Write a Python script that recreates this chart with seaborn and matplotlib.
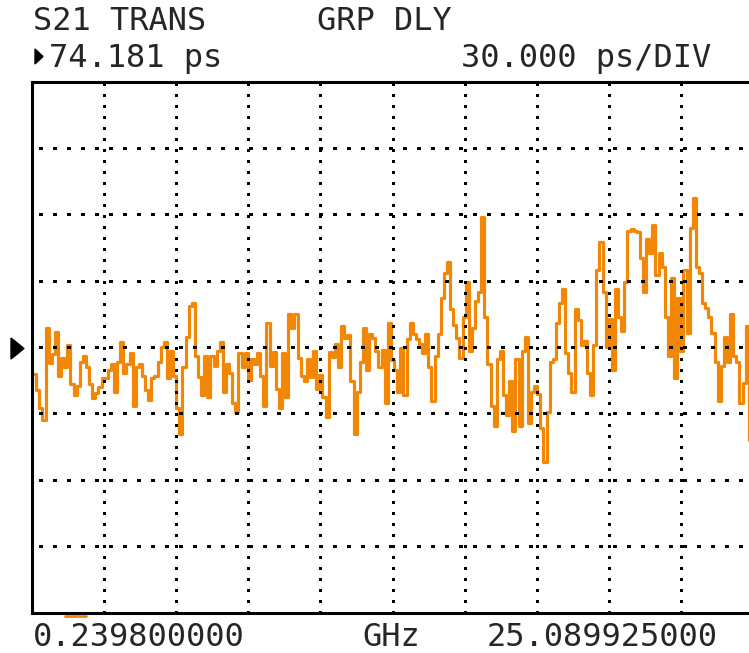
import numpy as np
import pandas as pd
import matplotlib
matplotlib.use("Agg")
import matplotlib.pyplot as plt
import seaborn as sns
from matplotlib.lines import Line2D
from matplotlib.patches import Polygon

# sweep and scale settings (from the screen annotations)
freq_start_ghz = 0.2398
freq_stop_ghz = 25.089925
ref_value_ps = 74.181
scale_ps_per_div = 30.0
n_xdiv = 10
n_ydiv = 8

# group delay trace, ps
delay_ps = [
    62.0, 62.0, 54.8, 46.6, 41.2, 82.8, 67.0, 71.0, 81.0, 61.1,
    69.2, 65.2, 75.1, 57.5, 52.5, 56.6, 67.4, 70.1, 65.2, 57.5,
    51.1, 53.4, 56.1, 60.2, 60.2, 63.8, 66.5, 53.9, 67.4, 76.5,
    62.4, 66.5, 71.5, 47.5, 65.2, 66.5, 61.1, 54.8, 50.2, 60.2,
    61.1, 67.4, 74.2, 76.5, 60.2, 72.4, 61.1, 46.6, 34.9, 65.2,
    78.7, 92.7, 94.1, 70.1, 60.6, 52.5, 70.1, 51.6, 70.1, 65.6,
    72.4, 76.5, 53.9, 66.5, 62.4, 48.9, 44.8, 71.5, 65.2, 71.5,
    59.3, 68.8, 66.5, 71.5, 61.1, 47.5, 85.0, 65.6, 71.9, 55.2,
    46.6, 71.5, 51.6, 89.1, 82.8, 89.1, 69.2, 61.1, 58.8, 68.8,
    60.6, 72.4, 55.2, 61.5, 51.6, 42.6, 71.9, 69.7, 75.6, 65.2,
    83.7, 78.3, 79.6, 58.8, 34.9, 53.9, 67.4, 82.8, 63.8, 80.1,
    78.3, 72.4, 65.2, 72.8, 48.9, 85.0, 68.3, 63.8, 53.9, 73.7,
    52.5, 77.8, 85.0, 80.1, 77.8, 75.6, 71.5, 80.1, 65.2, 49.8,
    70.1, 80.1, 96.3, 107.6, 112.6, 91.4, 84.1, 78.3, 69.2, 87.8,
    103.6, 72.4, 82.8, 95.0, 99.1, 133.0, 87.8, 66.5, 47.5, 38.5,
    68.8, 72.4, 52.5, 43.5, 58.8, 36.2, 68.8, 38.5, 72.4, 78.7,
    39.8, 53.9, 56.6, 53.0, 37.6, 22.2, 44.8, 67.4, 68.8, 85.0,
    94.1, 100.4, 71.5, 62.4, 53.9, 91.4, 86.4, 75.1, 76.9, 62.4,
    52.5, 75.1, 109.0, 121.7, 99.1, 74.2, 86.9, 63.8, 100.4, 87.8,
    81.4, 103.6, 126.6, 127.5, 126.6, 126.2, 114.4, 99.1, 123.0, 116.7,
    129.3, 106.7, 116.7, 110.4, 87.8, 70.1, 105.4, 60.2, 96.3, 72.4,
    109.0, 80.5, 128.0, 141.5, 110.4, 107.6, 94.1, 91.8, 87.8, 80.5,
    67.4, 49.8, 65.6, 78.7, 67.4, 89.1, 70.1, 67.4, 48.9, 57.9,
    83.7, 32.2, 32.2,
]

title_left = "S21 TRANS"
title_right = "GRP DLY"
ref_label = "74.181 ps"
scale_label = "30.000 ps/DIV"
start_label = "0.239800000"
unit_label = "GHz"
stop_label = "25.089925000"

trace_color = "#F28705"
W, H = 749, 653

freq_ghz = np.linspace(freq_start_ghz, freq_stop_ghz, len(delay_ps))
df = pd.DataFrame({"freq": freq_ghz, "delay": delay_ps})

sns.set_style("white")
plt.rcParams["font.family"] = ["DejaVu Sans Mono", "DejaVu Sans"]

fig = plt.figure(figsize=(W / 100, H / 100), dpi=100)
# plot box: left edge x=31.5, top y=81.5, bottom y=612.5, right edge just off screen
ax = fig.add_axes([31.5 / W, 1 - 612.5 / H, 722 / W, 531 / H])

sns.lineplot(data=df, x="freq", y="delay", ax=ax, color=trace_color,
             linewidth=2.3, drawstyle="steps-mid", estimator=None,
             sort=False, zorder=2)

ax.set_xlim(freq_start_ghz, freq_stop_ghz)
ax.set_ylim(ref_value_ps - scale_ps_per_div * n_ydiv / 2,
            ref_value_ps + scale_ps_per_div * n_ydiv / 2)
ax.set_xticks(np.linspace(freq_start_ghz, freq_stop_ghz, n_xdiv + 1))
ax.set_yticks(ref_value_ps + scale_ps_per_div * np.arange(-n_ydiv // 2, n_ydiv // 2 + 1))
ax.tick_params(length=0, labelbottom=False, labelleft=False)
ax.set_xlabel("")
ax.set_ylabel("")
ax.set_axisbelow(False)
ax.xaxis.grid(True, color="black", linewidth=1.8, linestyle=(0, (1.0, 3.4)),
              antialiased=False)
ax.yaxis.grid(True, color="black", linewidth=1.8, linestyle=(3, (1.2, 4.0)),
              antialiased=False)
for s in ax.spines.values():
    s.set_color("black")
    s.set_linewidth(2.2)
    s.set_zorder(3)

# screen annotations
def fx(px):
    return px / W

def fy(py):
    return 1 - py / H

fs = 23
fig.text(fx(33), fy(30), title_left, fontsize=fs, va="baseline", ha="left")
fig.text(fx(317), fy(30), title_right, fontsize=fs, va="baseline", ha="left")
fig.text(fx(49), fy(67), ref_label, fontsize=fs, va="baseline", ha="left")
fig.text(fx(461), fy(67), scale_label, fontsize=fs, va="baseline", ha="left")
fig.text(fx(33), fy(646), start_label, fontsize=fs, va="baseline", ha="left")
fig.text(fx(362), fy(646), unit_label, fontsize=fs, va="baseline", ha="left")
fig.text(fx(487), fy(646), stop_label, fontsize=fs, va="baseline", ha="left")

# active marker arrow in header and reference-level arrow at left
fig.add_artist(Polygon([(fx(35), fy(49)), (fx(35), fy(64)), (fx(43), fy(56.5))],
                       closed=True, color="black", transform=fig.transFigure))
fig.add_artist(Polygon([(fx(11), fy(338)), (fx(11), fy(359)), (fx(24), fy(348.5))],
                       closed=True, color="black", transform=fig.transFigure))
# small orange marker under the start of the sweep
fig.add_artist(Line2D([fx(65), fx(86)], [fy(616), fy(616)], color=trace_color,
                      linewidth=2.0, transform=fig.transFigure))

fig.savefig("out.png", dpi=100, facecolor="white")
